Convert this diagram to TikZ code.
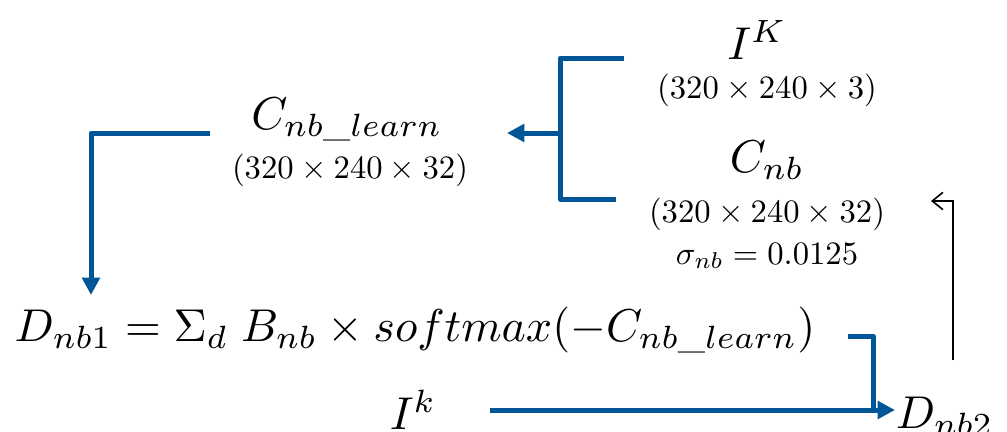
\documentclass[tikz,border=0pt]{standalone}
\usepackage{amsmath}
\usetikzlibrary{arrows.meta}
\definecolor{flow}{RGB}{0,86,150}
\tikzset{
  big/.style={inner sep=0pt, scale=3.45},
  small/.style={inner sep=0pt, scale=2.45},
  blueline/.style={draw=flow, line width=3.75pt, line join=round},
  bluearrow/.style={blueline, -{Triangle[length=13pt,width=13pt]}},
  thinarrow/.style={draw=black, line width=1.2pt, -{Straight Barb[length=8pt,width=13pt,line width=1.2pt]}}
}
\begin{document}
\begin{tikzpicture}[x=0.75pt,y=-0.75pt]
\useasboundingbox (0,0) rectangle (1007,432);
\clip (0,0) rectangle (1007,432);
% texts
\node[big] (IK) at (757,40) {$I^K$};
\node[small] (IKd) at (767,90) {$(320\times240\times3)$};
\node[big] (Cnb) at (767,160) {$C_{nb}$};
\node[small] (Cnbd) at (767,214) {$(320\times240\times32)$};
\node[small] (sig) at (767,256) {$\sigma_{nb}=0.0125$};
\node[big] (Cl) at (347,120) {$C_{nb\_learn}$};
\node[small] (Cld) at (350,170) {$(320\times240\times32)$};
\node[big] (eq) at (415,330) {$D_{nb1}=\Sigma_d\;B_{nb}\times softmax(-C_{nb\_learn})$};
\node[big] (Ik) at (413,410) {$I^k$};
\node[big, anchor=west] (D2) at (895,416) {$D_{nb2}$};
% coordinates
\coordinate (bt) at (624,58);
\coordinate (bb) at (616,199);
\coordinate (bj) at (560,133);
\coordinate (btip) at (507,133);
\coordinate (ls) at (210,133);
\coordinate (ltip) at (91,295);
\coordinate (rs) at (848,336);
\coordinate (rj) at (873,410);
\coordinate (ks) at (490,410);
\coordinate (ts) at (953,360);
\coordinate (ttip) at (931,201);
% connectors
\draw[blueline] (bt) -- (bj |- bt) -- (bj |- bb) -- (bb);
\draw[bluearrow] (bj) -- (btip);
\draw[bluearrow] (ls) -| (ltip);
\draw[blueline] (rs) -| (rj);
\draw[bluearrow] (ks) -- (D2.west |- ks);
\draw[thinarrow] (ts) |- (ttip);
\end{tikzpicture}
\end{document}
